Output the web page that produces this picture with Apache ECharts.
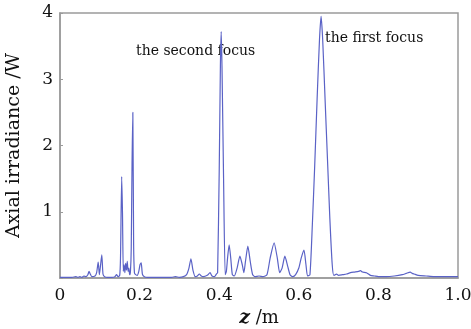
<!DOCTYPE html>
<html>
<head>
<meta charset="utf-8">
<script src="https://cdn.jsdelivr.net/npm/echarts@6/dist/echarts.min.js"></script>
<style>
  html, body { margin: 0; padding: 0; background: #fff; }
  #chart { width: 471px; height: 329px; }
</style>
</head>
<body>
<div id="chart"></div>
<script>
// axial position z (m)
var zPos = [
    0.00, 0.03, 0.04, 0.045, 0.05, 0.055, 0.06, 0.065, 0.07, 0.073, 0.076, 0.08,
    0.088, 0.092, 0.096, 0.099, 0.102, 0.105, 0.108, 0.112, 0.12, 0.13, 0.138, 0.142,
    0.146, 0.150, 0.152, 0.155, 0.157, 0.159, 0.161, 0.163, 0.165, 0.167, 0.169, 0.171,
    0.173, 0.175, 0.177, 0.179, 0.181, 0.183, 0.185, 0.187, 0.190, 0.194, 0.198, 0.201,
    0.204, 0.207, 0.212, 0.22, 0.25, 0.28, 0.29, 0.30, 0.31, 0.318, 0.324, 0.329,
    0.334, 0.34, 0.345, 0.35, 0.355, 0.36, 0.37, 0.377, 0.382, 0.388, 0.393, 0.396,
    0.400, 0.403, 0.405, 0.407, 0.411, 0.415, 0.418, 0.421, 0.425, 0.429, 0.433, 0.438,
    0.445, 0.452, 0.458, 0.462, 0.466, 0.472, 0.478, 0.484, 0.49, 0.50, 0.51, 0.52,
    0.528, 0.538, 0.546, 0.552, 0.558, 0.565, 0.572, 0.578, 0.585, 0.592, 0.60, 0.606,
    0.613, 0.618, 0.622, 0.628, 0.634, 0.640, 0.646, 0.652, 0.656, 0.660, 0.666, 0.672,
    0.678, 0.684, 0.688, 0.695, 0.70, 0.71, 0.72, 0.73, 0.74, 0.75, 0.755, 0.76,
    0.77, 0.78, 0.79, 0.80, 0.82, 0.84, 0.86, 0.87, 0.88, 0.885, 0.89, 0.90,
    0.92, 0.94, 0.96, 0.98, 1.00
];
// axial irradiance (W)
var irradiance = [
    0.01, 0.01, 0.02, 0.01, 0.02, 0.01, 0.03, 0.02, 0.05, 0.10, 0.06, 0.02,
    0.03, 0.08, 0.24, 0.05, 0.20, 0.35, 0.06, 0.02, 0.01, 0.01, 0.02, 0.05,
    0.02, 0.04, 0.30, 1.53, 0.98, 0.10, 0.20, 0.08, 0.22, 0.12, 0.25, 0.10,
    0.15, 0.05, 0.10, 0.45, 1.72, 2.50, 0.50, 0.08, 0.05, 0.04, 0.10, 0.20,
    0.23, 0.06, 0.02, 0.01, 0.01, 0.01, 0.02, 0.01, 0.02, 0.05, 0.15, 0.29,
    0.12, 0.02, 0.03, 0.06, 0.03, 0.02, 0.04, 0.08, 0.03, 0.02, 0.06, 0.08,
    1.60, 3.20, 3.72, 3.20, 1.50, 0.05, 0.10, 0.30, 0.50, 0.30, 0.05, 0.03,
    0.15, 0.33, 0.20, 0.08, 0.25, 0.48, 0.25, 0.05, 0.02, 0.03, 0.02, 0.05,
    0.30, 0.53, 0.30, 0.08, 0.15, 0.33, 0.18, 0.05, 0.02, 0.05, 0.15, 0.30,
    0.42, 0.20, 0.03, 0.05, 0.80, 1.70, 2.70, 3.60, 3.95, 3.60, 2.70, 1.80,
    0.90, 0.20, 0.04, 0.06, 0.04, 0.05, 0.06, 0.08, 0.09, 0.10, 0.11, 0.09,
    0.08, 0.04, 0.03, 0.02, 0.02, 0.03, 0.05, 0.07, 0.09, 0.07, 0.06, 0.04,
    0.03, 0.02, 0.02, 0.02, 0.02
];
var annotations = ['the second focus', 'the first focus'];

var points = [];
for (let i = 0; i < zPos.length; i++) {
    points.push([zPos[i], irradiance[i]]);
}

var serif = '"DejaVu Serif", "Liberation Serif", serif';
var myChart = echarts.init(document.getElementById('chart'));
var option = {
    backgroundColor: '#fff',
    animation: false,
    grid: {
        left: 60,
        right: 13,
        top: 13,
        bottom: 51,
        containLabel: false,
        outerBoundsMode: 'none',
        show: true,
        borderColor: '#9a9a9a',
        borderWidth: 1.5
    },
    xAxis: {
        type: 'value',
        min: 0,
        max: 1,
        interval: 0.2,
        splitLine: { show: false },
        axisLine: { lineStyle: { color: '#9a9a9a', width: 1.5 } },
        axisTick: { show: false },
        axisLabel: {
            color: '#111',
            fontFamily: serif,
            fontSize: 17,
            margin: 9,
            formatter: function (v) { return v === 0 ? '0' : v.toFixed(1); }
        },
        name: '{i|z} /m',
        nameLocation: 'middle',
        nameGap: 29,
        nameTextStyle: {
            color: '#111',
            fontFamily: serif,
            fontSize: 18,
            rich: {
                i: { fontStyle: 'italic', fontWeight: 'bold', fontFamily: serif, fontSize: 19, color: '#111' }
            }
        }
    },
    yAxis: {
        type: 'value',
        min: 0,
        max: 4,
        interval: 1,
        splitLine: { show: false },
        axisLine: { lineStyle: { color: '#9a9a9a', width: 1.5 } },
        axisTick: { inside: true, length: 3, lineStyle: { color: '#9a9a9a' } },
        axisLabel: {
            color: '#111',
            fontFamily: serif,
            fontSize: 17,
            margin: 7,
            formatter: function (v) { return v === 0 ? '' : String(v); }
        },
        name: 'Axial irradiance /W',
        nameLocation: 'middle',
        nameGap: 36,
        nameTextStyle: { color: '#111', fontFamily: serif, fontSize: 19 }
    },
    graphic: [
        {
            type: 'text', left: 136, top: 44,
            style: { text: annotations[0], font: '14px ' + serif, fill: '#111' }
        },
        {
            type: 'text', left: 325, top: 31,
            style: { text: annotations[1], font: '14px ' + serif, fill: '#111' }
        }
    ],
    series: [{
        type: 'line',
        data: points,
        showSymbol: false,
        smooth: 0.2,
        lineStyle: { color: '#5a62c6', width: 1.2 }
    }]
};
myChart.setOption(option, true);
</script>
</body>
</html>
